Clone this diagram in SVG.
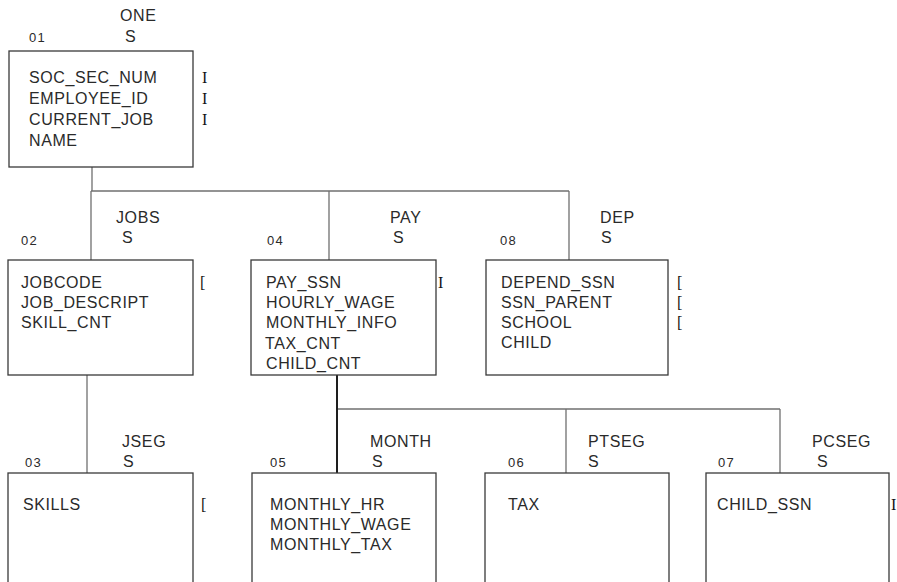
<svg xmlns="http://www.w3.org/2000/svg" width="897" height="582" viewBox="0 0 897 582">
<style>
  .bg { fill: #ffffff; }
  .box { fill: #ffffff; stroke: #3a3a3a; stroke-width: 1.3; }
  .t { font-family: "Liberation Sans", Arial, sans-serif; font-size: 16px; letter-spacing: 0.6px; fill: #2a2a2a; }
  .n { font-family: "Liberation Sans", Arial, sans-serif; font-size: 13px; letter-spacing: 1.2px; fill: #2a2a2a; }
  .m { font-family: "Liberation Serif", "Times New Roman", serif; font-size: 16px; fill: #111111; }
  .c { fill: none; stroke: #707070; stroke-width: 1.3; }
  .ck { fill: none; stroke: #1e1e1e; stroke-width: 2; }
</style>
<rect class="bg" x="0" y="0" width="897" height="582"/>

<g id="connectors">
  <path class="c" d="M92 167 V191 M91 191 H569 M91 191 V260 M329 191 V260 M569 191 V260"/>
  <path class="c" d="M87 375 V473"/>
  <path class="c" d="M337 409 H780 M566 409 V473 M780 409 V473"/>
  <path class="ck" d="M337 375 V473"/>
</g>

<g id="node-01">
  <text class="n" x="29" y="42">01</text>
  <text class="t" x="120" y="21">ONE</text>
  <text class="t" x="125" y="42">S</text>
  <rect class="box" x="9" y="51" width="184" height="116"/>
  <text class="t" x="29" y="83">SOC_SEC_NUM</text>
  <text class="t" x="29" y="104">EMPLOYEE_ID</text>
  <text class="t" x="29" y="125">CURRENT_JOB</text>
  <text class="t" x="29" y="146">NAME</text>
  <text class="m" x="202" y="83">I</text>
  <text class="m" x="202" y="104">I</text>
  <text class="m" x="202" y="125">I</text>
</g>

<g id="node-02">
  <text class="n" x="21" y="245">02</text>
  <text class="t" x="116" y="223">JOBS</text>
  <text class="t" x="122" y="243">S</text>
  <rect class="box" x="8" y="260" width="185" height="115"/>
  <text class="t" x="21" y="288">JOBCODE</text>
  <text class="t" x="21" y="308">JOB_DESCRIPT</text>
  <text class="t" x="21" y="328">SKILL_CNT</text>
  <text class="m" x="200" y="288">[</text>
</g>

<g id="node-04">
  <text class="n" x="267" y="245">04</text>
  <text class="t" x="390" y="223">PAY</text>
  <text class="t" x="393" y="243">S</text>
  <rect class="box" x="251" y="260" width="185" height="115"/>
  <text class="t" x="266" y="288">PAY_SSN</text>
  <text class="t" x="266" y="308">HOURLY_WAGE</text>
  <text class="t" x="266" y="328">MONTHLY_INFO</text>
  <text class="t" x="265" y="349">TAX_CNT</text>
  <text class="t" x="266" y="369">CHILD_CNT</text>
  <text class="m" x="438" y="288">I</text>
</g>

<g id="node-08">
  <text class="n" x="500" y="245">08</text>
  <text class="t" x="600" y="223">DEP</text>
  <text class="t" x="601" y="243">S</text>
  <rect class="box" x="486" y="260" width="182" height="115"/>
  <text class="t" x="501" y="288">DEPEND_SSN</text>
  <text class="t" x="501" y="308">SSN_PARENT</text>
  <text class="t" x="501" y="328">SCHOOL</text>
  <text class="t" x="501" y="348">CHILD</text>
  <text class="m" x="677" y="288">[</text>
  <text class="m" x="677" y="308">[</text>
  <text class="m" x="677" y="328">[</text>
</g>

<g id="node-03">
  <text class="n" x="25" y="467">03</text>
  <text class="t" x="122" y="447">JSEG</text>
  <text class="t" x="123" y="467">S</text>
  <rect class="box" x="8" y="473" width="185" height="125"/>
  <text class="t" x="23" y="510">SKILLS</text>
  <text class="m" x="201" y="510">[</text>
</g>

<g id="node-05">
  <text class="n" x="270" y="467">05</text>
  <text class="t" x="370" y="447">MONTH</text>
  <text class="t" x="372" y="467">S</text>
  <rect class="box" x="252" y="473" width="184" height="125"/>
  <text class="t" x="270" y="510">MONTHLY_HR</text>
  <text class="t" x="270" y="530">MONTHLY_WAGE</text>
  <text class="t" x="270" y="550">MONTHLY_TAX</text>
</g>

<g id="node-06">
  <text class="n" x="508" y="467">06</text>
  <text class="t" x="588" y="447">PTSEG</text>
  <text class="t" x="588" y="467">S</text>
  <rect class="box" x="485" y="473" width="184" height="125"/>
  <text class="t" x="508" y="510">TAX</text>
</g>

<g id="node-07">
  <text class="n" x="718" y="467">07</text>
  <text class="t" x="812" y="447">PCSEG</text>
  <text class="t" x="817" y="467">S</text>
  <rect class="box" x="706" y="473" width="183" height="125"/>
  <text class="t" x="717" y="510">CHILD_SSN</text>
  <text class="m" x="891" y="510">I</text>
</g>
</svg>
